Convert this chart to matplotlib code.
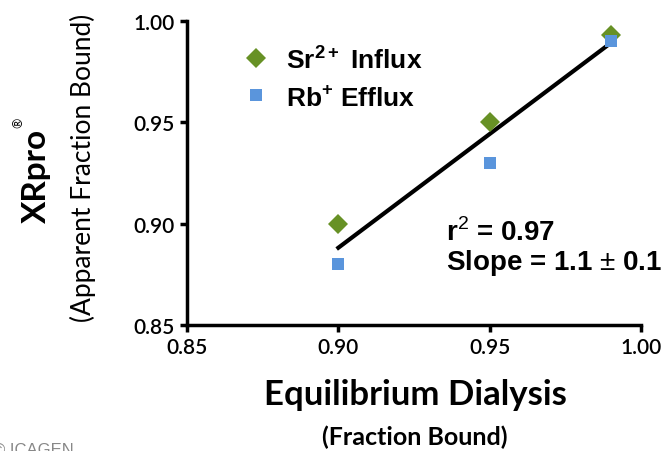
import numpy as np
import matplotlib
matplotlib.use('Agg')
import matplotlib.pyplot as plt

plt.rcParams['mathtext.fontset'] = 'custom'
plt.rcParams['mathtext.rm'] = 'Liberation Sans'
plt.rcParams['mathtext.bf'] = 'Liberation Sans:bold'

# data
sr_x = [0.90, 0.95, 0.99]
sr_y = [0.900, 0.950, 0.993]
rb_x = [0.90, 0.95, 0.99]
rb_y = [0.880, 0.930, 0.990]
ticks = [0.85, 0.90, 0.95, 1.00]
tick_labels = ['0.85', '0.90', '0.95', '1.00']

green = '#679125'
blue = '#5a95dc'

fig = plt.figure(figsize=(6.71, 4.52), dpi=100)
ax = fig.add_axes([0.2787, 0.2788, 0.6766, 0.6725])

# linear fit over both series
all_x = np.array(sr_x + rb_x)
all_y = np.array(sr_y + rb_y)
slope, icpt = np.polyfit(all_x, all_y, 1)
fx = np.array([min(all_x), max(all_x)])
ax.plot(fx, slope * fx + icpt, color='black', lw=3, zorder=2)

ax.plot(sr_x, sr_y, 'D', color=green, ms=10, mew=0, zorder=3, label='Sr$^{\\mathbf{2+}}$ Influx')
ax.plot(rb_x, rb_y, 's', color=blue, ms=9, mew=0, zorder=4, label='Rb$^{\\mathbf{+}}$ Efflux')

ax.set_xlim(0.85, 1.00)
ax.set_ylim(0.85, 1.00)
ax.set_xticks(ticks)
ax.set_xticklabels(tick_labels)
ax.set_yticks(ticks)
ax.set_yticklabels(tick_labels)
for lab in ax.get_xticklabels() + ax.get_yticklabels():
    lab.set_family('Lato')
    lab.set_fontsize(15)
    lab.set_fontweight('semibold')
ax.tick_params(width=2.5, length=5, pad=4)

for s in ['top', 'right']:
    ax.spines[s].set_visible(False)
for s in ['left', 'bottom']:
    ax.spines[s].set_linewidth(2.5)

leg = ax.legend(loc='upper left', bbox_to_anchor=(0.065, 1.0), frameon=False,
                prop={'family': 'Liberation Sans', 'weight': 'bold', 'size': 19},
                handletextpad=0.55, labelspacing=0.45, handlelength=1.2)

ax.text(0.57, 0.306, 'r$^2$ = 0.97', transform=ax.transAxes, fontsize=20,
        fontweight='bold', family='Liberation Sans', va='center')
ax.text(0.57, 0.207, 'Slope = 1.1 $\\pm$ 0.1', transform=ax.transAxes, fontsize=20,
        fontweight='bold', family='Liberation Sans', va='center', clip_on=False)

fig.text(0.619, 0.126, 'Equilibrium Dialysis', ha='center', va='center',
         family='Lato', fontweight='bold', fontsize=25)
fig.text(0.618, 0.033, '(Fraction Bound)', ha='center', va='center',
         family='Lato', fontweight='bold', fontsize=18)

fig.text(0.055, 0.61, 'XRpro', rotation=90, ha='center', va='center',
         family='Lato', fontweight='bold', fontsize=24)
fig.text(0.018, 0.728, '\u00ae', rotation=90, ha='left', va='center',
         family='Lato', fontsize=9)
fig.text(0.124, 0.628, '(Apparent Fraction Bound)', rotation=90, ha='center',
         va='center', family='Lato', fontsize=19)

fig.text(-0.01, -0.012, '\u00a9 ICAGEN', color='#888888', family='Liberation Sans',
         fontsize=12, ha='left', va='bottom')

fig.savefig('out.png', dpi=100)
